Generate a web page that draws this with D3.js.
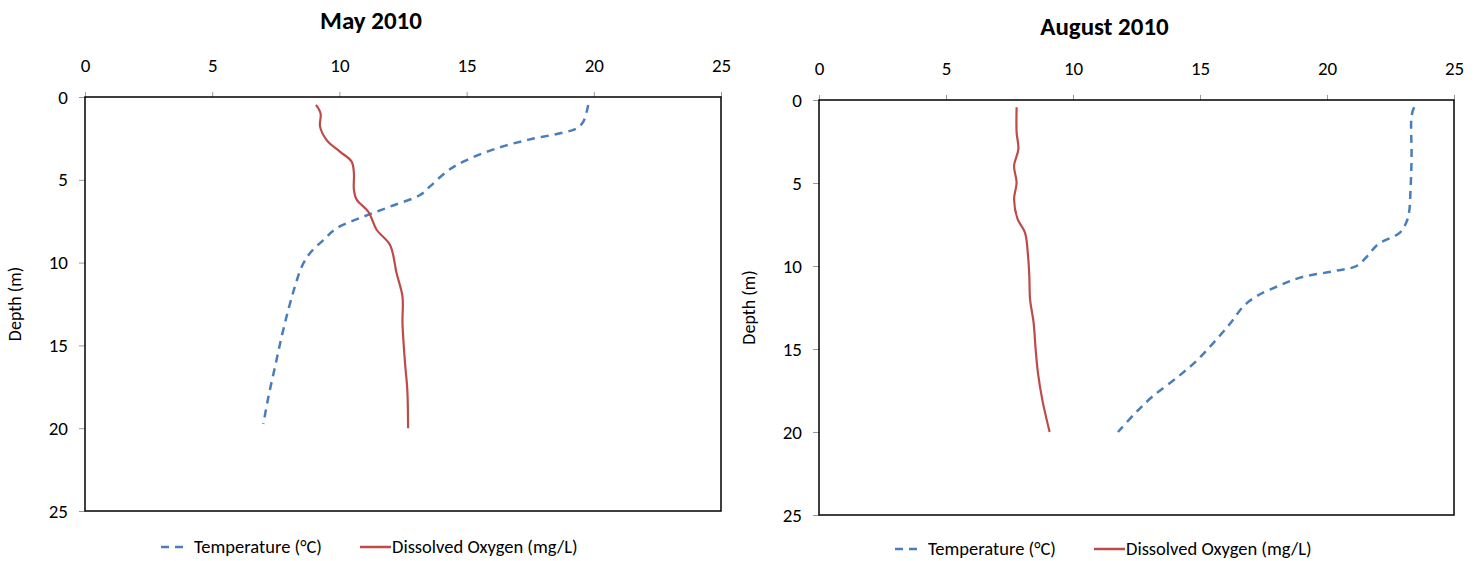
<!DOCTYPE html>
<html>
<head>
<meta charset="utf-8">
<script src="https://cdn.jsdelivr.net/npm/d3@7"></script>
<style>
  body { margin: 0; background: #fff; }
  svg { display: block; }
  text { font-family: Carlito, "Liberation Sans Narrow", "DejaVu Sans Condensed", sans-serif; fill: #000; }
</style>
</head>
<body>
<svg id="chart" width="1479" height="561"></svg>
<script>
// x ticks / y ticks shared by both panels
const xTicks = [0, 5, 10, 15, 20, 25];
const yTicks = [0, 5, 10, 15, 20, 25];

// May 2010 -- [value, depth]
const mayTemp = [[19.78,0.48],[19.59,1.49],[19.33,1.89],[18.8,2.15],[17.49,2.56],[16.18,3.1],[14.87,3.9],[14.22,4.5],[13.56,5.4],[13.17,5.92],[11.99,6.62],[10.94,7.23],[9.89,7.93],[9.37,8.64],[8.84,9.44],[8.52,10.25],[8.25,11.45],[7.99,12.86],[7.73,14.47],[7.47,16.29],[7.21,18.1],[7.01,19.75]];
const mayDO = [[9.08,0.48],[9.26,0.99],[9.24,1.79],[9.5,2.6],[10.02,3.3],[10.48,3.9],[10.57,4.6],[10.57,5.6],[10.68,6.2],[11.14,6.93],[11.47,8.03],[11.99,8.94],[12.25,10.65],[12.48,12.06],[12.48,13.67],[12.58,16.08],[12.67,17.7],[12.7,20.0]];

// August 2010
const augTemp = [[23.43,0.44],[23.33,0.95],[23.33,3.36],[23.29,5.37],[23.23,6.78],[23.12,7.38],[22.87,7.99],[22.01,8.69],[21.59,9.4],[21.16,10.0],[20.31,10.3],[18.94,10.7],[18.09,11.2],[17.24,11.81],[16.72,12.41],[16.21,13.42],[15.53,14.63],[14.85,15.73],[14.16,16.64],[13.14,17.85],[12.46,18.85],[11.77,20.0]];
const augDO = [[7.78,0.44],[7.78,1.95],[7.85,2.96],[7.68,3.96],[7.78,4.97],[7.68,5.98],[7.82,7.18],[8.11,7.99],[8.23,9.4],[8.28,10.6],[8.31,12.01],[8.45,13.42],[8.53,15.03],[8.62,16.44],[8.79,18.05],[9.08,20.0]];

const tempColor = "#4a7ebb";
const doColor = "#be4b48";

const svg = d3.select("#chart");

function panel(title, temp, oxy, box) {
  const g = svg.append("g");
  const x = d3.scaleLinear().domain([0, 25]).range([box.x0, box.x1]);
  const y = d3.scaleLinear().domain([0, 25]).range([box.y0, box.y1]);

  g.append("text")
    .attr("x", (box.x0 + box.x1) / 2 - 32)
    .attr("y", box.titleY)
    .attr("text-anchor", "middle")
    .attr("font-size", 25)
    .attr("font-weight", "bold")
    .text(title);

  const xa = g.append("g")
    .attr("transform", `translate(0,${box.y0})`)
    .call(d3.axisTop(x).tickValues(xTicks).tickSize(5).tickPadding(20));
  const ya = g.append("g")
    .attr("transform", `translate(${box.x0},0)`)
    .call(d3.axisLeft(y).tickValues(yTicks).tickSize(6).tickPadding(11));
  [xa, ya].forEach(a => {
    a.select(".domain").remove();
    a.selectAll("line").attr("stroke", "#999");
    a.selectAll("text").attr("font-size", 19).style("font-family", null);
  });

  g.append("rect")
    .attr("x", box.x0).attr("y", box.y0)
    .attr("width", box.x1 - box.x0).attr("height", box.y1 - box.y0)
    .attr("fill", "none").attr("stroke", "#000").attr("stroke-width", 1.5);

  g.append("text")
    .attr("transform", `translate(${box.labelX},${(box.y0 + box.y1) / 2}) rotate(-90)`)
    .attr("text-anchor", "middle")
    .attr("font-size", 18)
    .text("Depth (m)");

  const line = d3.line()
    .x(d => x(d[0]))
    .y(d => y(d[1]))
    .curve(d3.curveCatmullRom.alpha(0.5));

  g.append("path").datum(temp)
    .attr("d", line)
    .attr("fill", "none")
    .attr("stroke", tempColor)
    .attr("stroke-width", 2.5)
    .attr("stroke-dasharray", "8,6");

  g.append("path").datum(oxy)
    .attr("d", line)
    .attr("fill", "none")
    .attr("stroke", doColor)
    .attr("stroke-width", 2.2);

  // legend
  const lg = g.append("g").attr("transform", `translate(${box.legX},${box.legY})`);
  lg.append("line").attr("x1", 0).attr("x2", 28).attr("y1", 0).attr("y2", 0)
    .attr("stroke", tempColor).attr("stroke-width", 2.5).attr("stroke-dasharray", "8,6");
  lg.append("text").attr("x", 33).attr("y", 0).attr("dy", "0.3em")
    .attr("font-size", 18.5).text("Temperature (°C)");
  lg.append("line").attr("x1", 199).attr("x2", 230).attr("y1", 0).attr("y2", 0)
    .attr("stroke", doColor).attr("stroke-width", 2.5);
  lg.append("text").attr("x", 231).attr("y", 0).attr("dy", "0.3em")
    .attr("font-size", 18.5).text("Dissolved Oxygen (mg/L)");
}

panel("May 2010", mayTemp, mayDO,
  { x0: 85, x1: 721, y0: 97, y1: 511, titleY: 29, labelX: 21, legX: 161, legY: 547 });
panel("August 2010", augTemp, augDO,
  { x0: 819, x1: 1454, y0: 100, y1: 515, titleY: 35, labelX: 755, legX: 895, legY: 549 });
</script>
</body>
</html>
